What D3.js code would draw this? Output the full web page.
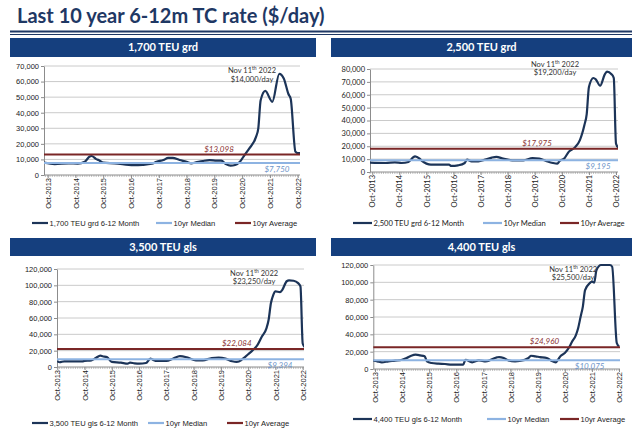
<!DOCTYPE html>
<html><head><meta charset="utf-8">
<script src="https://cdn.jsdelivr.net/npm/d3@7"></script>
<style>body{margin:0;background:#fff}</style>
</head><body>
<svg id="c" width="640" height="432"></svg>
<script>
const chartTitle = "Last 10 year 6-12m TC rate ($/day)";
const xTickDates = ["2013-10","2014-10","2015-10","2016-10","2017-10","2018-10","2019-10","2020-10","2021-10","2022-10"];
const xTickLabels = ["Oct-2013","Oct-2014","Oct-2015","Oct-2016","Oct-2017","Oct-2018","Oct-2019","Oct-2020","Oct-2021","Oct-2022"];
const legendMedian = "10yr Median";
const legendAverage = "10yr Average";
const noteDate = ["Nov 11", "th", " 2022"];

// Panel 1: 1,700 TEU grd
const p1Name = "1,700 TEU grd";
const p1Series = "1,700 TEU grd 6-12 Month";
const p1Ticks = [0,10000,20000,30000,40000,50000,60000,70000];
const p1Dates = ["2013-08","2014-01","2014-07","2014-11","2015-02","2015-04","2015-05","2015-07","2015-08","2015-10","2016-03","2016-11","2017-03","2017-07","2017-09","2017-12","2018-02","2018-04","2018-07","2018-10","2018-12","2019-02","2019-05","2019-08","2019-11","2020-01","2020-03","2020-05","2020-07","2020-09","2020-11","2021-01","2021-04","2021-05","2021-06","2021-08","2021-11","2022-02","2022-04","2022-06","2022-07","2022-09","2022-10","2022-11"];
const p1Values = [8000,7000,7500,7300,8500,11700,12200,10200,9600,7900,7500,6300,6500,7200,8500,9600,11000,11000,9600,8500,7500,8100,9000,9600,9200,9200,7000,6000,6400,8500,12800,17000,24500,30000,48000,54000,47000,65000,62000,52000,49000,15000,14000,14000];
const p1Median = 7750, p1Average = 13098, p1Current = "$14,000/day";

// Panel 2: 2,500 TEU grd
const p2Name = "2,500 TEU grd";
const p2Series = "2,500 TEU grd 6-12 Month";
const p2Ticks = [0,10000,20000,30000,40000,50000,60000,70000,80000];
const p2Dates = ["2013-08","2014-04","2014-08","2014-11","2015-02","2015-04","2015-05","2015-07","2015-08","2015-10","2015-12","2016-08","2016-09","2016-12","2017-03","2017-04","2017-06","2017-09","2017-12","2018-03","2018-05","2018-08","2018-12","2019-05","2019-09","2019-12","2020-03","2020-06","2020-08","2020-09","2020-11","2021-01","2021-04","2021-06","2021-08","2021-09","2021-10","2021-12","2022-01","2022-03","2022-05","2022-06","2022-08","2022-09","2022-10","2022-11"];
const p2Values = [7300,7000,7500,7000,7800,11200,12200,10400,8600,6500,5700,5700,4700,5200,7000,9600,8300,8300,9600,11200,11700,10400,9100,9100,10700,10400,8600,7000,6500,8600,10400,15600,19500,24800,36500,45000,66000,73000,72000,67000,75600,78000,76000,73000,22000,19000];
const p2Median = 9195, p2Average = 17975, p2Current = "$19,200/day";

// Panel 3: 3,500 TEU gls
const p3Name = "3,500 TEU gls";
const p3Series = "3,500 TEU gls 6-12 Month";
const p3Ticks = [0,20000,40000,60000,80000,100000,120000];
const p3Dates = ["2013-10","2013-11","2014-01","2014-09","2014-10","2015-01","2015-03","2015-05","2015-06","2015-08","2015-10","2016-02","2016-05","2016-06","2016-08","2016-10","2017-01","2017-03","2017-04","2017-06","2017-10","2018-01","2018-04","2018-07","2018-11","2019-02","2019-06","2019-09","2019-12","2020-03","2020-05","2020-07","2020-08","2020-10","2020-12","2021-02","2021-04","2021-06","2021-07","2021-08","2021-09","2021-10","2021-12","2022-01","2022-03","2022-04","2022-06","2022-08","2022-09","2022-10","2022-11"];
const p3Values = [7200,5800,7000,7000,7400,8200,11000,14000,13200,11900,6200,5300,4100,5300,4500,4100,4900,10300,9000,7400,7400,10300,13200,11900,8200,8200,11000,11500,10300,7000,6200,8500,11000,15600,20500,26700,37000,47000,57500,78000,88000,92500,91700,94500,105000,106000,105600,102700,98600,28800,24000];
const p3Median = 9394, p3Average = 22084, p3Current = "$23,250/day";

// Panel 4: 4,400 TEU gls
const p4Name = "4,400 TEU gls";
const p4Series = "4,400 TEU gls 6-12 Month";
const p4Ticks = [0,20000,40000,60000,80000,100000,120000];
const p4Dates = ["2013-09","2013-11","2014-01","2014-04","2014-07","2014-10","2014-12","2015-02","2015-04","2015-06","2015-08","2015-09","2015-11","2016-02","2016-05","2016-08","2017-01","2017-02","2017-05","2017-08","2017-11","2018-04","2018-05","2018-07","2018-09","2018-12","2019-02","2019-06","2019-07","2019-09","2019-11","2020-02","2020-04","2020-06","2020-07","2020-08","2020-10","2020-12","2021-01","2021-03","2021-04","2021-05","2021-06","2021-07","2021-09","2021-10","2021-11","2021-12","2022-02","2022-06","2022-07","2022-09","2022-10"];
const p4Values = [9600,8800,7700,8800,9600,10700,12700,15300,16500,15700,14600,8800,6900,6100,5800,5000,5000,10700,7700,10000,8800,13400,13800,12700,10000,8800,9200,12700,15300,14600,13800,12700,9600,7700,10700,14600,18400,25300,30700,39500,48000,60000,72000,91000,99000,100800,99700,114000,120000,120000,118000,30000,26000];
const p4Median = 10075, p4Average = 24960, p4Current = "$25,500/day";

const panels = [
  {name:p1Name, series:p1Series, ticks:p1Ticks, dates:p1Dates, values:p1Values, median:p1Median, average:p1Average, current:p1Current},
  {name:p2Name, series:p2Series, ticks:p2Ticks, dates:p2Dates, values:p2Values, median:p2Median, average:p2Average, current:p2Current},
  {name:p3Name, series:p3Series, ticks:p3Ticks, dates:p3Dates, values:p3Values, median:p3Median, average:p3Average, current:p3Current},
  {name:p4Name, series:p4Series, ticks:p4Ticks, dates:p4Dates, values:p4Values, median:p4Median, average:p4Average, current:p4Current}
];

// layout (positions and styles only)
const layouts = [
  {hx:10, hy:38, hw:306, hh:19, left:44, right:300, top:66, bottom:175, x0:47.7, x1:297.7, legY:223, leg:[32,156,235], legLen:16, font:"Liberation Sans", annX:0.8125, annY:0.065, avgAt:"2019-12", medAt:"2022-01"},
  {hx:331, hy:38, hw:301, hh:19, left:370, right:618, top:69, bottom:172, x0:372.3, x1:616, legY:223, leg:[353,483,560], legLen:19, font:"Lato", annX:0.746, annY:-0.02, avgAt:"2019-11", medAt:"2022-02"},
  {hx:10, hy:238, hw:306, hh:18, left:57, right:304, top:269, bottom:367, x0:57.3, x1:302.7, legY:423, leg:[32,148,227], legLen:16, font:"Liberation Sans", annX:0.798, annY:0.071, avgAt:"2020-05", medAt:"2021-12"},
  {hx:331, hy:238, hw:301, hh:18, left:373.3, right:620, top:265, bottom:369, x0:375, x1:619, legY:419, leg:[353,487,560], legLen:19, font:"Liberation Sans", annX:0.81, annY:0.067, avgAt:"2020-01", medAt:"2021-09"}
];

const parse = d3.timeParse("%Y-%m");
const fmt = d3.format(",");
const svg = d3.select("#c");
const NAVY = "#1f3864", HEAD = "#153f7e", SERIES = "#1c3458", MED = "#8db3e2", AVG = "#7a2626";

svg.append("text").attr("x",17).attr("y",23).attr("font-family","Lato").attr("font-weight",700)
  .attr("font-size",20).attr("fill",NAVY).text(chartTitle);
svg.append("line").attr("x1",10).attr("x2",632).attr("y1",31.5).attr("y2",31.5).attr("stroke",NAVY).attr("stroke-width",2);
svg.append("line").attr("x1",10).attr("x2",632).attr("y1",34.5).attr("y2",34.5).attr("stroke",NAVY).attr("stroke-width",1);

panels.forEach((p,i)=>{
  const L = layouts[i];
  const g = svg.append("g");
  g.append("rect").attr("x",L.hx).attr("y",L.hy).attr("width",L.hw).attr("height",L.hh).attr("fill",HEAD);
  g.append("text").attr("x",L.hx+L.hw/2).attr("y",L.hy+L.hh/2).attr("dy","0.36em").attr("text-anchor","middle")
    .attr("fill","#fff").attr("font-family","Lato").attr("font-weight",700).attr("font-size",11).text(p.name);

  const x = d3.scaleTime().domain([parse(xTickDates[0]), parse(xTickDates[xTickDates.length-1])]).range([L.x0, L.x1]);
  const y = d3.scaleLinear().domain([0, d3.max(p.ticks)]).range([L.bottom, L.top]);

  // gridlines
  g.append("g").selectAll("line").data(p.ticks.filter(t=>t>0)).join("line")
    .attr("x1",L.left).attr("x2",L.right).attr("y1",d=>y(d)).attr("y2",d=>y(d))
    .attr("stroke","#bdbdbd").attr("stroke-width",0.8);

  // y axis
  const ya = d3.axisLeft(y).tickValues(p.ticks).tickFormat(fmt).tickSize(3).tickSizeOuter(0).tickPadding(2);
  const yg = g.append("g").attr("transform",`translate(${L.left},0)`).call(ya);
  yg.select(".domain").attr("stroke","#8c8c8c");
  yg.selectAll(".tick line").attr("stroke","#8c8c8c");
  yg.selectAll("text").attr("font-family",L.font).attr("font-size",7.5).attr("fill","#222");

  // x axis: minor monthly ticks
  const months = d3.timeMonth.range(x.invert(L.left), x.invert(L.right));
  g.append("g").selectAll("line").data(months).join("line")
    .attr("x1",d=>x(d)).attr("x2",d=>x(d)).attr("y1",L.bottom).attr("y2",L.bottom+2)
    .attr("stroke","#9a9a9a").attr("stroke-width",0.6);
  g.append("line").attr("x1",L.left).attr("x2",L.right).attr("y1",L.bottom).attr("y2",L.bottom)
    .attr("stroke","#8c8c8c").attr("stroke-width",1);
  const xa = d3.axisBottom(x).tickValues(xTickDates.map(parse)).tickFormat((d,k)=>xTickLabels[k]).tickSize(3).tickSizeOuter(0);
  const xg = g.append("g").attr("transform",`translate(0,${L.bottom})`).call(xa);
  xg.select(".domain").remove();
  xg.selectAll(".tick line").attr("stroke","#8c8c8c");
  xg.selectAll("text").attr("transform","rotate(-90)").attr("text-anchor","end")
    .attr("x",-3).attr("y",0).attr("dy","0.35em")
    .attr("font-family",L.font).attr("font-size",7.5).attr("fill","#222");

  // clip
  const cid = "clip"+i;
  svg.append("clipPath").attr("id",cid).append("rect")
    .attr("x",L.left).attr("y",L.top-2).attr("width",L.right-L.left).attr("height",L.bottom-L.top+3);

  const data = p.dates.map((d,k)=>({d:parse(d), v:p.values[k]}));
  const line = d3.line().x(d=>x(d.d)).y(d=>y(d.v)).curve(d3.curveMonotoneX);
  g.append("path").datum(data).attr("clip-path",`url(#${cid})`).attr("d",line)
    .attr("fill","none").attr("stroke",SERIES).attr("stroke-width",2.2).attr("stroke-linejoin","round");

  // median & average
  g.append("line").attr("x1",L.left).attr("x2",L.right).attr("y1",y(p.median)).attr("y2",y(p.median))
    .attr("stroke",MED).attr("stroke-width",2);
  g.append("line").attr("x1",L.left).attr("x2",L.right).attr("y1",y(p.average)).attr("y2",y(p.average))
    .attr("stroke",AVG).attr("stroke-width",2);

  g.append("text").attr("x",x(parse(L.avgAt))).attr("y",y(p.average)-3).attr("text-anchor","middle")
    .attr("font-family","Lato").attr("font-style","italic").attr("font-size",8).attr("fill","#8b3434")
    .text("$"+fmt(p.average));
  g.append("text").attr("x",x(parse(L.medAt))).attr("y",y(p.median)+9).attr("text-anchor","middle")
    .attr("font-family","Lato").attr("font-style","italic").attr("font-size",8).attr("fill","#6d94c9")
    .text("$"+fmt(p.median));

  // annotation
  const ax = L.left + L.annX*(L.right-L.left);
  const ay = L.top + L.annY*(L.bottom-L.top);
  const t1 = g.append("text").attr("x",ax).attr("y",ay).attr("text-anchor","middle")
    .attr("font-family","Lato").attr("font-size",7.5).attr("fill","#333");
  t1.append("tspan").text(noteDate[0]);
  t1.append("tspan").attr("font-size",5).attr("dy",-3).text(noteDate[1]);
  t1.append("tspan").attr("dy",3).text(noteDate[2]);
  g.append("text").attr("x",ax).attr("y",ay+8.5).attr("text-anchor","middle")
    .attr("font-family","Lato").attr("font-size",7.5).attr("fill","#333").text(p.current);

  // legend
  const items = [{t:p.series,c:SERIES},{t:legendMedian,c:MED},{t:legendAverage,c:AVG}];
  items.forEach((it,k)=>{
    const lx = L.leg[k];
    g.append("line").attr("x1",lx).attr("x2",lx+L.legLen).attr("y1",L.legY).attr("y2",L.legY)
      .attr("stroke",it.c).attr("stroke-width",2.2);
    g.append("text").attr("x",lx+L.legLen+1.5).attr("y",L.legY).attr("dy","0.35em")
      .attr("font-family",L.font).attr("font-size",7.6).attr("fill","#222").text(it.t);
  });
});
</script>
</body></html>
